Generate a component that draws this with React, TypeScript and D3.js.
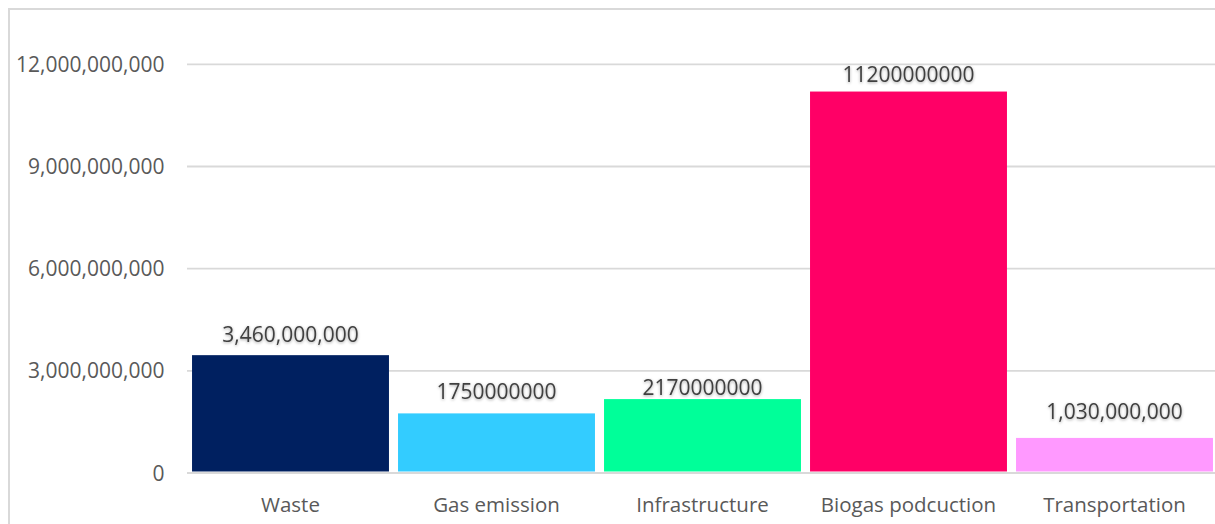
import React from "react";
import * as d3 from "d3";

const categories = ["Waste", "Gas emission", "Infrastructure", "Biogas podcuction", "Transportation"];
const values = [3460000000, 1750000000, 2170000000, 11200000000, 1030000000];
const valueLabels = ["3,460,000,000", "1750000000", "2170000000", "11200000000", "1,030,000,000"];
const colors = ["#002060", "#33CCFF", "#00FF99", "#FF0066", "#FF99FF"];
const yTicks = [0, 3000000000, 6000000000, 9000000000, 12000000000];
// distance of each value label's baseline above its bar
const labelGap = [12.7, 14, 4.3, 9.7, 18.7];

const W = 1215;
const H = 524;
const FONT = "'Open Sans', sans-serif";

export default function App() {
  const x = d3
    .scaleBand<string>()
    .domain(categories)
    .range([187.5, 1217.5])
    .paddingInner(0.044)
    .paddingOuter(0.022);
  const y = d3.scaleLinear().domain([0, 12000000000]).range([473, 64.3]);
  const fmt = d3.format(",");

  return (
    <svg
      width={W}
      height={H}
      style={{ position: "absolute", left: 0, top: 0, background: "#fff" }}
    >
      <defs>
        <filter id="shadow" x="-20%" y="-50%" width="140%" height="200%">
          <feDropShadow dx="0" dy="1" stdDeviation="1.6" floodColor="#000" floodOpacity="0.35" />
        </filter>
      </defs>
      <rect x={9} y={9} width={W + 20} height={H + 20} fill="none" stroke="#d9d9d9" strokeWidth={2} />
      {yTicks.map((t) => (
        <g key={t}>
          <line x1={187} x2={W} y1={y(t)} y2={y(t)} stroke="#d9d9d9" strokeWidth={t === 0 ? 2.2 : 1.8} />
          <text
            x={164.5}
            y={y(t)}
            dy="0.36em"
            textAnchor="end"
            fontFamily={FONT}
            fontSize={21}
            fill="#595959"
          >
            {fmt(t)}
          </text>
        </g>
      ))}
      {categories.map((c, i) => (
        <g key={c}>
          <rect
            x={x(c)!}
            y={y(values[i])}
            width={x.bandwidth()}
            height={y(0) - 1.5 - y(values[i])}
            fill={colors[i]}
          />
          <text
            x={x(c)! + x.bandwidth() / 2}
            y={y(values[i]) - labelGap[i]}
            textAnchor="middle"
            fontFamily={FONT}
            fontSize={21}
            fill="#404040"
            filter="url(#shadow)"
          >
            {valueLabels[i]}
          </text>
          <text
            x={x(c)! + x.bandwidth() / 2}
            y={511.5}
            textAnchor="middle"
            fontFamily={FONT}
            fontSize={20.5}
            fill="#595959"
          >
            {c}
          </text>
        </g>
      ))}
    </svg>
  );
}
